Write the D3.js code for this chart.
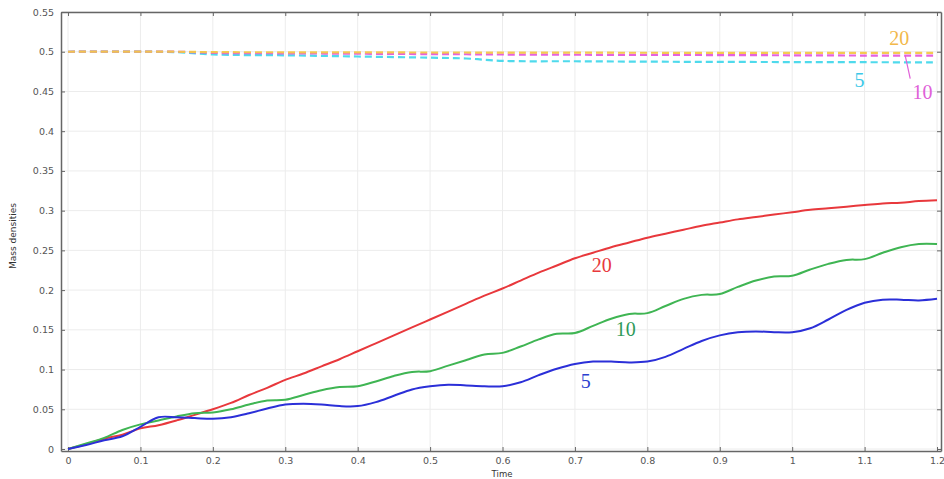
<!DOCTYPE html>
<meta charset="utf-8">
<script src="https://d3js.org/d3.v7.js"></script>
<style>
  body { margin: 0; background: #fff; }
  svg { display: block; }
</style>
<div id="chart"></div>
<script>

// sample times
const times = [0, 0.025, 0.05, 0.075, 0.1, 0.125, 0.15, 0.175, 0.2, 0.225, 0.25, 0.275, 0.3,
  0.325, 0.35, 0.375, 0.4, 0.425, 0.45, 0.475, 0.5, 0.525, 0.55, 0.575, 0.6, 0.625, 0.65,
  0.675, 0.7, 0.725, 0.75, 0.775, 0.8, 0.825, 0.85, 0.875, 0.9, 0.925, 0.95, 0.975, 1.0,
  1.025, 1.05, 1.075, 1.1, 1.125, 1.15, 1.175, 1.2];

// solid curves
const solid20 = [0, 0.006, 0.013, 0.018, 0.026, 0.030, 0.036, 0.043, 0.050, 0.058, 0.068, 0.077, 0.087,
  0.095, 0.104, 0.113, 0.123, 0.133, 0.143, 0.153, 0.163, 0.173, 0.183, 0.193, 0.202, 0.212, 0.222,
  0.231, 0.240, 0.247, 0.254, 0.260, 0.266, 0.271, 0.276, 0.281, 0.285, 0.289, 0.292, 0.295, 0.298,
  0.301, 0.303, 0.305, 0.307, 0.309, 0.310, 0.312, 0.313];
const solid10 = [0, 0.007, 0.014, 0.024, 0.031, 0.036, 0.041, 0.045, 0.046, 0.050, 0.056, 0.061, 0.062,
  0.068, 0.074, 0.078, 0.079, 0.085, 0.092, 0.097, 0.098, 0.105, 0.112, 0.119, 0.121, 0.129, 0.138,
  0.145, 0.146, 0.155, 0.164, 0.170, 0.171, 0.180, 0.189, 0.194, 0.195, 0.204, 0.212, 0.217, 0.218,
  0.226, 0.233, 0.238, 0.239, 0.247, 0.254, 0.258, 0.258];
const solid5 = [0, 0.005, 0.011, 0.016, 0.028, 0.040, 0.040, 0.039, 0.038, 0.040, 0.045, 0.051, 0.056,
  0.057, 0.056, 0.054, 0.054, 0.059, 0.067, 0.075, 0.079, 0.081, 0.080, 0.079, 0.079, 0.084, 0.093,
  0.101, 0.107, 0.110, 0.110, 0.109, 0.110, 0.116, 0.126, 0.136, 0.143, 0.147, 0.148, 0.147, 0.147,
  0.152, 0.163, 0.175, 0.184, 0.188, 0.188, 0.187, 0.189];

// dashed curves near 0.5
const dashTimes = [0, 0.15, 0.2, 0.3, 0.4, 0.5, 0.55, 0.6, 0.7, 0.8, 0.9, 1.0, 1.1, 1.2];
const dashed20 = [0.5, 0.5, 0.4995, 0.4993, 0.4992, 0.499, 0.499, 0.4989, 0.4988, 0.4987, 0.4986, 0.4986, 0.4985, 0.4985];
const dashed10 = [0.5, 0.5, 0.4985, 0.498, 0.4975, 0.497, 0.4968, 0.4965, 0.4962, 0.496, 0.4958, 0.4955, 0.4952, 0.495];
const dashed5 = [0.5, 0.4995, 0.4965, 0.4955, 0.494, 0.4925, 0.4915, 0.4885, 0.488, 0.4875, 0.4872, 0.487, 0.4868, 0.4866];

const xTicks = [0, 0.1, 0.2, 0.3, 0.4, 0.5, 0.6, 0.7, 0.8, 0.9, 1, 1.1, 1.2];
const yTicks = [0, 0.05, 0.1, 0.15, 0.2, 0.25, 0.3, 0.35, 0.4, 0.45, 0.5, 0.55];

const series = [
  {name: "20", t: times, v: solid20, color: "#e8383c", dash: null, op: 1},
  {name: "10", t: times, v: solid10, color: "#3fb553", dash: null, op: 1},
  {name: "5", t: times, v: solid5, color: "#2b2fd8", dash: null, op: 1},
  {name: "5", t: dashTimes, v: dashed5, color: "#3cd6ea", dash: "7,4", op: 0.9},
  {name: "10", t: dashTimes, v: dashed10, color: "#e247d8", dash: "7,4", op: 0.85},
  {name: "20", t: dashTimes, v: dashed20, color: "#f3c848", dash: "7,4", op: 0.95}
];

const W = 944, H = 479;
const svg = d3.select("#chart").append("svg")
  .attr("width", W).attr("height", H);

const x = d3.scaleLinear().domain([-0.0097, 1.2055]).range([61, 941]);
const y = d3.scaleLinear().domain([-0.0025, 0.55]).range([451, 12]);

const fmt = d => String(+d.toFixed(2));

// grid
svg.append("g").selectAll("line").data(xTicks).join("line")
  .attr("x1", d => x(d)).attr("x2", d => x(d))
  .attr("y1", y.range()[0]).attr("y2", y.range()[1])
  .attr("stroke", "#ececec");
svg.append("g").selectAll("line").data(yTicks).join("line")
  .attr("y1", d => y(d)).attr("y2", d => y(d))
  .attr("x1", x.range()[0]).attr("x2", x.range()[1])
  .attr("stroke", "#ececec");

// axes with inward ticks
const axLeft = svg.append("g").attr("transform", `translate(${x.range()[0]},0)`)
  .call(d3.axisLeft(y).tickValues(yTicks).tickFormat(fmt).tickSizeInner(-4).tickSizeOuter(0).tickPadding(7));
const axBottom = svg.append("g").attr("transform", `translate(0,${y.range()[0]})`)
  .call(d3.axisBottom(x).tickValues(xTicks).tickFormat(fmt).tickSizeInner(-4).tickSizeOuter(0).tickPadding(6));
const axRight = svg.append("g").attr("transform", `translate(${x.range()[1]},0)`)
  .call(d3.axisRight(y).tickValues(yTicks).tickFormat("").tickSizeInner(-4).tickSizeOuter(0));
const axTop = svg.append("g").attr("transform", `translate(0,${y.range()[1]})`)
  .call(d3.axisTop(x).tickValues(xTicks).tickFormat("").tickSizeInner(-4).tickSizeOuter(0));

[axLeft, axBottom, axRight, axTop].forEach(g => {
  g.selectAll("path").attr("stroke", "#666").attr("stroke-width", 1.5);
  g.selectAll("line").attr("stroke", "#666");
  g.selectAll("text").attr("fill", "#555").style("font-family", "DejaVu Sans").style("font-size", "9.5px");
});

// axis titles
svg.append("text").text("Time")
  .attr("x", 502).attr("y", 477).attr("text-anchor", "middle")
  .style("font-family", "DejaVu Sans").style("font-size", "8.5px").attr("fill", "#333");
svg.append("text").text("Mass densities")
  .attr("transform", "translate(16,236) rotate(-90)").attr("text-anchor", "middle")
  .style("font-family", "DejaVu Sans").style("font-size", "9px").attr("fill", "#333");

// curves
const line = d3.line().curve(d3.curveCatmullRom.alpha(0.5))
  .x(d => x(d[0])).y(d => y(d[1]));

svg.append("g").selectAll("path").data(series).join("path")
  .attr("d", s => line(s.t.map((t, i) => [t, s.v[i]])))
  .attr("fill", "none")
  .attr("stroke", s => s.color)
  .attr("stroke-width", s => s.dash ? 2.2 : 2)
  .attr("stroke-dasharray", s => s.dash)
  .attr("opacity", s => s.op);

// inline labels
const labels = [
  {text: "20", px: 0.737, py: 0.223, color: "#e8383c"},
  {text: "10", px: 0.77, py: 0.142, color: "#2f9a5a"},
  {text: "5", px: 0.715, py: 0.077, color: "#2b3fd0"},
  {text: "20", px: 1.148, py: 0.509, color: "#f2b84a"},
  {text: "5", px: 1.093, py: 0.456, color: "#3cc8e8"},
  {text: "10", px: 1.18, py: 0.441, color: "#e060d8"}
];
svg.append("g").selectAll("text").data(labels).join("text")
  .text(d => d.text)
  .attr("x", d => x(d.px)).attr("y", d => y(d.py))
  .attr("text-anchor", "middle")
  .attr("fill", d => d.color)
  .style("font-family", "Liberation Serif").style("font-size", "20px");

// leader for the dashed "10" label
svg.append("line")
  .attr("x1", x(1.156)).attr("y1", y(0.4955))
  .attr("x2", x(1.163)).attr("y2", y(0.466))
  .attr("stroke", "#e060d8").attr("stroke-width", 1.2);

</script>
